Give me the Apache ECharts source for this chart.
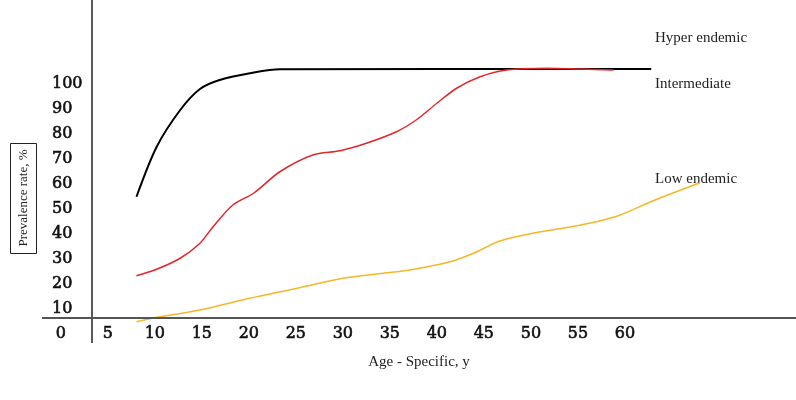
<!DOCTYPE html>
<html>
<head>
<meta charset="utf-8">
<script src="https://cdn.jsdelivr.net/npm/echarts@6/dist/echarts.min.js"></script>
<style>html,body{margin:0;padding:0;background:#fff}#c{width:796px;height:400px}</style>
</head>
<body>
<div id="c"></div>
<script>
// Tick labels
const xTicks = [0, 5, 10, 15, 20, 25, 30, 35, 40, 45, 50, 55, 60];
const yTicks = [10, 20, 30, 40, 50, 60, 70, 80, 90, 100];
// Series: [age, prevalence %]
const hyperAge = [8.05, 10.2, 12.7, 14.8, 16.9, 20.4, 23.3, 62.8];
const hyperVal = [53.3, 73.3, 88, 96.4, 100, 102.9, 104.3, 104.4];
const interAge = [8.05, 10.2, 12.7, 14.8, 16.2, 18.3, 20.5, 23.3, 26.8, 29.7, 32.5, 35.7, 37.8, 40, 42.1, 44.6, 47.4, 51.7, 55.2, 58.8];
const interVal = [21.7, 24.3, 28.7, 34.7, 41.3, 50, 54.7, 63.3, 70, 71.7, 74.7, 79.3, 84, 90.7, 96.7, 101.3, 104, 104.7, 104.4, 104];
const lowAge = [8.05, 10.2, 14.8, 20.1, 25.4, 30, 34.3, 37.1, 41.4, 43.9, 46.7, 50.2, 53.8, 56.6, 59.5, 63, 68];
const lowVal = [3.3, 5.1, 8, 12.7, 16.9, 20.7, 22.7, 24, 27.3, 30.7, 35.6, 38.7, 41, 43, 46, 51.7, 58.9];
const seriesNames = ['Hyper endemic', 'Intermediate', 'Low endemic'];
const axisCross = { x: 3.32, y: 4.8 };

const zip = (a, b) => a.map((v, i) => [v, b[i]]);
const numFont = { fontFamily: 'DejaVu Serif', fontSize: 16, color: '#111', textBorderColor: '#111', textBorderWidth: 0.6 };

const chart = echarts.init(document.getElementById('c'));
chart.setOption({
  animation: false,
  grid: { left: 42, top: 0, width: 754, height: 343 },
  xAxis: {
    type: 'value', min: -2, max: 78.2,
    axisLine: { show: false }, axisTick: { show: false }, splitLine: { show: false },
    axisLabel: Object.assign({ customValues: xTicks, inside: true, margin: 1 }, numFont),
    name: 'Age - Specific, y', nameLocation: 'middle', nameGap: 12,
    nameTextStyle: { fontFamily: 'Liberation Serif', fontSize: 15, color: '#222', verticalAlign: 'top' }
  },
  yAxis: {
    type: 'value', min: -5.2, max: 132,
    axisLine: { show: false }, axisTick: { show: false }, splitLine: { show: false },
    axisLabel: Object.assign({ customValues: yTicks, inside: true, margin: 10, verticalAlign: 'top', lineHeight: 7 }, numFont)
  },
  graphic: [
    { type: 'rect', shape: { x: 10.5, y: 143.5, width: 26, height: 110 }, style: { fill: '#fff', stroke: '#222', lineWidth: 1 } },
    { type: 'text', x: 23.5, y: 198, rotation: Math.PI / 2,
      style: { text: 'Prevalence rate, %', fontFamily: 'Liberation Serif', fontSize: 13, fill: '#222', align: 'center', verticalAlign: 'middle' } },
    { type: 'text', x: 655, y: 38, style: { text: seriesNames[0], fontFamily: 'Liberation Serif', fontSize: 15, fill: '#222', verticalAlign: 'middle' } },
    { type: 'text', x: 655, y: 84, style: { text: seriesNames[1], fontFamily: 'Liberation Serif', fontSize: 15, fill: '#222', verticalAlign: 'middle' } },
    { type: 'text', x: 655, y: 179, style: { text: seriesNames[2], fontFamily: 'Liberation Serif', fontSize: 15, fill: '#222', verticalAlign: 'middle' } }
  ],
  series: [
    {
      name: seriesNames[0], type: 'line', data: zip(hyperAge, hyperVal), smooth: 0.3,
      showSymbol: false, lineStyle: { color: '#000', width: 2 }, z: 3,
      markLine: {
        silent: true, symbol: 'none', label: { show: false },
        data: [
          { xAxis: axisCross.x, lineStyle: { color: '#222', width: 1.5, type: 'solid' } },
          { yAxis: axisCross.y, lineStyle: { color: '#555', width: 2, type: 'solid' } }
        ]
      }
    },
    {
      name: seriesNames[2], type: 'line', data: zip(lowAge, lowVal), smooth: 0.3,
      showSymbol: false, lineStyle: { color: '#f4b72a', width: 1.5 }, z: 3
    },
    {
      name: seriesNames[1], type: 'line', data: zip(interAge, interVal), smooth: 0.3,
      showSymbol: false, lineStyle: { color: '#e3262c', width: 1.5 }, z: 4
    }
  ]
});
</script>
</body>
</html>
